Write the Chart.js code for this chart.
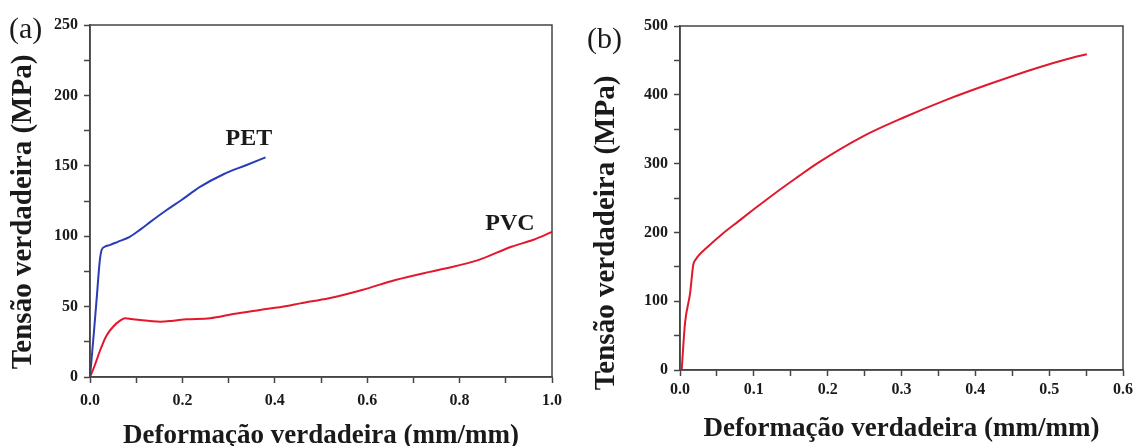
<!DOCTYPE html>
<html>
<head>
<meta charset="utf-8">
<script src="https://cdn.jsdelivr.net/npm/chart.js@4.4.1/dist/chart.umd.min.js"></script>
<style>
  body { margin: 0; background: #fff; }
  #wrapA { position: absolute; left: 0; top: 0; width: 570px; height: 446px; }
  #wrapB { position: absolute; left: 570px; top: 0; width: 571px; height: 446px; }
</style>
</head>
<body>
<div id="wrapA"><canvas id="chartA"></canvas></div>
<div id="wrapB"><canvas id="chartB"></canvas></div>
<script>
// (a) PET and PVC curves
const petStrain = [0, 0.008, 0.015, 0.021, 0.025, 0.032, 0.043, 0.06, 0.086, 0.11, 0.13, 0.166, 0.198, 0.238, 0.289, 0.339, 0.38];
const petStress = [0, 30, 58, 82, 90, 92.5, 93.7, 96, 99.6, 105, 110, 118.6, 125.7, 135, 144, 150.6, 156];
const pvcStrain = [0, 0.01, 0.022, 0.035, 0.05, 0.065, 0.076, 0.09, 0.108, 0.13, 0.152, 0.18, 0.209, 0.26, 0.31, 0.368, 0.426, 0.455, 0.517, 0.589, 0.661, 0.733, 0.769, 0.84, 0.912, 0.96, 1.0];
const pvcStress = [0, 8, 19, 29, 35.7, 40, 41.7, 41.2, 40.5, 39.8, 39.3, 40, 41, 41.7, 44.7, 47.6, 50.4, 52.3, 55.9, 61.8, 68.9, 74.5, 77, 83, 92.5, 97.5, 103];

// (b) single curve
const bStrain = [0.0023, 0.0068, 0.0136, 0.018, 0.0215, 0.0248, 0.0384, 0.0565, 0.079, 0.1017, 0.1288, 0.16, 0.1853, 0.2485, 0.303, 0.3615, 0.42, 0.4835, 0.5286, 0.551];
const bStress = [0, 68, 111, 153, 161, 166, 180, 197, 216, 235, 257, 281, 300, 340, 367, 393, 416, 439, 453, 459];

const xTitle = "Deformação verdadeira (mm/mm)";
const yTitle = "Tensão verdadeira (MPa)";

const serif = "'Liberation Serif', 'Times New Roman', serif";
const axisColor = "#444";
const textColor = "#1a1a1a";

function toPoints(xs, ys) {
    return xs.map((x, i) => ({ x: x, y: ys[i] }));
}

// box round the plot area, y title, panel letter and curve names
const framePlugin = {
    id: "frame",
    afterDraw(chart, args, opts) {
        const ctx = chart.ctx;
        const a = chart.chartArea;
        ctx.save();
        ctx.strokeStyle = axisColor;
        ctx.lineWidth = 1.5;
        ctx.strokeRect(a.left, a.top, a.right - a.left, a.bottom - a.top);
        ctx.fillStyle = textColor;
        ctx.textBaseline = "middle";
        if (opts.panel) {
            ctx.font = "30px " + serif;
            ctx.textAlign = "left";
            ctx.fillText(opts.panel.text, opts.panel.x, opts.panel.y);
        }
        if (opts.yTitle) {
            ctx.save();
            ctx.translate(opts.yTitle.x, opts.yTitle.y);
            ctx.rotate(-Math.PI / 2);
            ctx.font = "bold 29px " + serif;
            ctx.textAlign = "center";
            ctx.fillText(yTitle, 0, 0);
            ctx.restore();
        }
        (opts.notes || []).forEach(n => {
            ctx.font = "bold 24px " + serif;
            ctx.textAlign = "center";
            ctx.fillText(n.text, chart.scales.x.getPixelForValue(n.x), chart.scales.y.getPixelForValue(n.y));
        });
        ctx.restore();
    }
};

function makeScales(xMax, xStep, yMax, yStep, o) {
    return {
        x: {
            type: "linear",
            min: 0,
            max: xMax,
            afterFit: s => { s.height = o.xHeight; },
            border: { display: true, color: axisColor, width: 1.5 },
            grid: { drawOnChartArea: false, tickLength: 6, tickColor: axisColor, tickWidth: 1.5 },
            ticks: {
                stepSize: xStep,
                padding: o.xPad,
                color: textColor,
                font: { family: serif, size: 16, weight: "bold" },
                callback: (v, i) => (i % 2 === 0 ? Number(v).toFixed(1) : "")
            },
            title: {
                display: true,
                text: xTitle,
                color: textColor,
                font: { family: serif, size: 27, weight: "bold", lineHeight: 1 },
                padding: { top: 0, bottom: o.xTitlePad }
            }
        },
        y: {
            type: "linear",
            min: 0,
            max: yMax,
            afterFit: s => { s.width = o.yWidth; },
            border: { display: true, color: axisColor, width: 1.5 },
            grid: { drawOnChartArea: false, tickLength: 6, tickColor: axisColor, tickWidth: 1.5 },
            ticks: {
                stepSize: yStep,
                padding: 6,
                color: textColor,
                font: { family: serif, size: 16, weight: "bold" },
                callback: (v, i) => (i % 2 === 0 ? String(v) : "")
            }
        }
    };
}

new Chart(document.getElementById("chartA"), {
    type: "line",
    data: {
        datasets: [
            {
                label: "PET",
                data: toPoints(petStrain, petStress),
                borderColor: "#2b3cb8",
                borderWidth: 2,
                pointRadius: 0,
                cubicInterpolationMode: "monotone"
            },
            {
                label: "PVC",
                data: toPoints(pvcStrain, pvcStress),
                borderColor: "#e3182d",
                borderWidth: 2,
                pointRadius: 0,
                cubicInterpolationMode: "monotone"
            }
        ]
    },
    options: {
        responsive: true,
        maintainAspectRatio: false,
        animation: false,
        layout: { padding: { left: 0, top: 25, right: 18, bottom: 0 } },
        plugins: {
            legend: { display: false },
            tooltip: { enabled: false },
            frame: {
                panel: { text: "(a)", x: 9, y: 30 },
                yTitle: { x: 24, y: 212 },
                notes: [
                    { text: "PET", x: 0.344, y: 169 },
                    { text: "PVC", x: 0.909, y: 109 }
                ]
            }
        },
        scales: makeScales(1.0, 0.1, 250, 25, { xHeight: 69, yWidth: 90, xPad: 8, xTitlePad: -4 })
    },
    plugins: [framePlugin]
});

new Chart(document.getElementById("chartB"), {
    type: "line",
    data: {
        datasets: [
            {
                label: "b",
                data: toPoints(bStrain, bStress),
                borderColor: "#e01a2e",
                borderWidth: 2,
                pointRadius: 0,
                cubicInterpolationMode: "monotone"
            }
        ]
    },
    options: {
        responsive: true,
        maintainAspectRatio: false,
        animation: false,
        layout: { padding: { left: 0, top: 26, right: 18, bottom: 0 } },
        plugins: {
            legend: { display: false },
            tooltip: { enabled: false },
            frame: {
                panel: { text: "(b)", x: 17, y: 40 },
                yTitle: { x: 37, y: 233 }
            }
        },
        scales: makeScales(0.6, 0.05, 500, 50, { xHeight: 76, yWidth: 110, xPad: 4, xTitlePad: 3 })
    },
    plugins: [framePlugin]
});
</script>
</body>
</html>
